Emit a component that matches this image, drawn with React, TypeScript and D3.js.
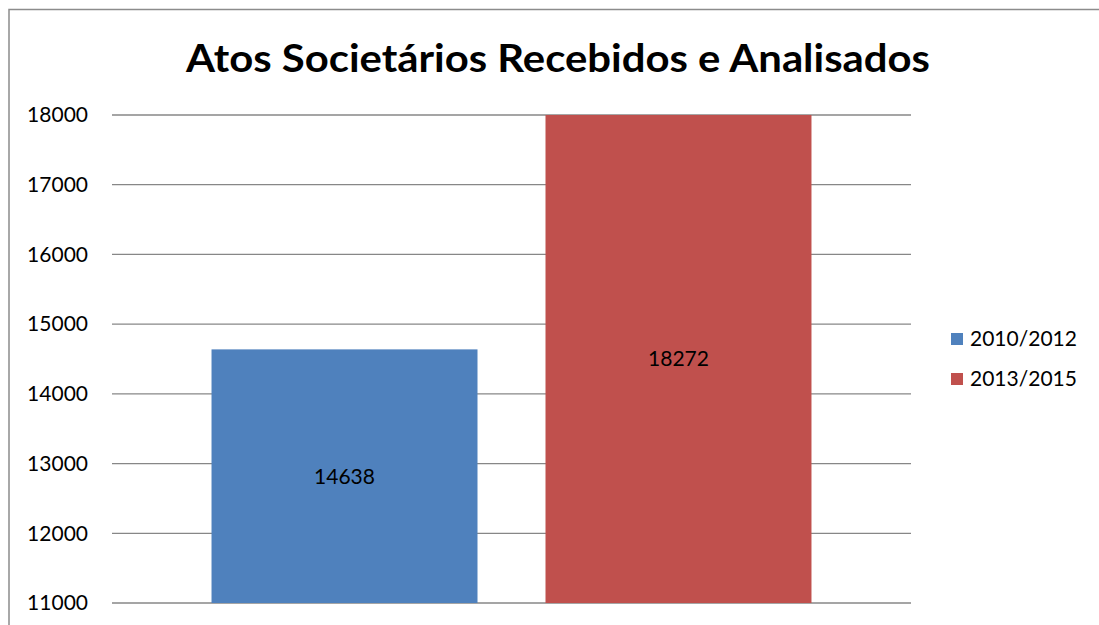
import React from "react";
import * as d3 from "d3";

const series = ["2010/2012", "2013/2015"];
const values = [14638, 18272];
const colors = ["#4F81BD", "#C0504D"];
const yTicks = [11000, 12000, 13000, 14000, 15000, 16000, 17000, 18000];
const title = "Atos Societários Recebidos e Analisados";

export default function App() {
  const W = 1099, H = 625;
  const left = 112, right = 911, top = 115, bottom = 603;
  const y = d3.scaleLinear().domain([11000, 18000]).range([bottom, top]);
  const x = d3.scaleBand<string>().domain(series).range([left, right]).paddingInner(0.2036).paddingOuter(0.298);
  const font = "Lato, 'Open Sans', sans-serif";
  return (
    <svg width={W} height={H} style={{ position: "absolute", left: 0, top: 0 }} fontFamily={font}>
      <rect x={0} y={0} width={W} height={H} fill="#fff" />
      <path d={`M9,${H + 5} V9.5 H${W + 5}`} fill="none" stroke="#8c8c8c" strokeWidth={1.5} />
      <text x={558} y={72} textAnchor="middle" fontSize={39} fontWeight="bold" fill="#000" textLength={744} lengthAdjust="spacingAndGlyphs">{title}</text>
      {yTicks.map(t => (
        <g key={t}>
          <line x1={left} x2={right} y1={y(t)} y2={y(t)} stroke="#878787" strokeWidth={1.3} />
          <text x={88} y={y(t)} dy="0.35em" textAnchor="end" fontSize={21} fill="#000">{t}</text>
        </g>
      ))}
      {series.map((s, i) => {
        const v = Math.min(values[i], 18000);
        const bx = x(s)!;
        const by = y(v);
        return (
          <g key={s}>
            <rect x={bx} y={by} width={x.bandwidth()} height={bottom - by} fill={colors[i]} />
            <text x={bx + x.bandwidth() / 2} y={(by + bottom) / 2} dy="0.35em" textAnchor="middle" fontSize={21} fill="#000">{values[i]}</text>
          </g>
        );
      })}
      {series.map((s, i) => (
        <g key={s} transform={`translate(951, ${333 + i * 40})`}>
          <rect x={0} y={0} width={12} height={12} fill={colors[i]} />
          <text x={19} y={6} dy="0.35em" fontSize={21} fill="#000">{s}</text>
        </g>
      ))}
    </svg>
  );
}
